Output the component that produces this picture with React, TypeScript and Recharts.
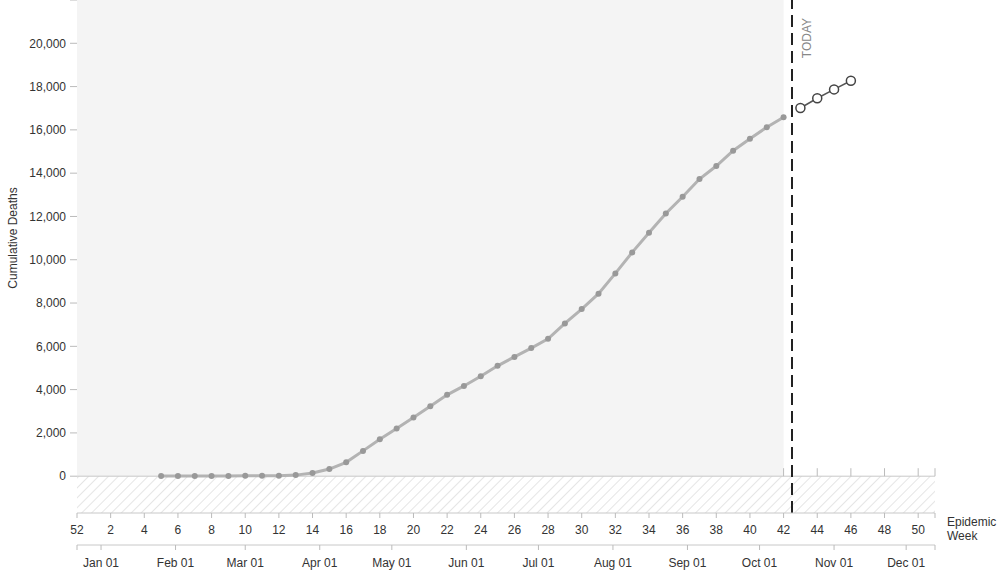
import React from 'react';
import { ComposedChart, Line, XAxis, YAxis, ReferenceArea, ReferenceLine } from 'recharts';

// Epidemic weeks (index 0 = week 52 of previous year)
const observedWeeks = [5, 6, 7, 8, 9, 10, 11, 12, 13, 14, 15, 16, 17, 18, 19, 20, 21, 22, 23, 24, 25, 26, 27, 28, 29, 30, 31, 32, 33, 34, 35, 36, 37, 38, 39, 40, 41, 42];
const observedDeaths = [5, 8, 10, 12, 14, 17, 20, 25, 50, 150, 330, 640, 1170, 1710, 2200, 2710, 3230, 3760, 4170, 4620, 5100, 5510, 5920, 6350, 7060, 7720, 8430, 9370, 10340, 11250, 12140, 12910, 13730, 14330, 15040, 15590, 16120, 16580];
const forecastWeeks = [43, 44, 45, 46];
const forecastDeaths = [17010, 17460, 17870, 18270];

const weekTicks = [0, 2, 4, 6, 8, 10, 12, 14, 16, 18, 20, 22, 24, 26, 28, 30, 32, 34, 36, 38, 40, 42, 44, 46, 48, 50, 51];
const weekLabels = ['52', '2', '4', '6', '8', '10', '12', '14', '16', '18', '20', '22', '24', '26', '28', '30', '32', '34', '36', '38', '40', '42', '44', '46', '48', '50', ''];
const zeroLineTicks = [42, 44, 46, 48, 50, 51];

// Days since start of week 52 (Dec 22, 2019)
const monthDays = [0, 10, 41, 70, 101, 131, 162, 192, 223, 254, 284, 315, 345, 357];
const monthLabels = ['', 'Jan 01', 'Feb 01', 'Mar 01', 'Apr 01', 'May 01', 'Jun 01', 'Jul 01', 'Aug 01', 'Sep 01', 'Oct 01', 'Nov 01', 'Dec 01', ''];
const monthTicks = monthDays.map((d) => d / 7);

const yTicks = [0, 2000, 4000, 6000, 8000, 10000, 12000, 14000, 16000, 18000, 20000, 22000];
const yLabels = ['0', '2,000', '4,000', '6,000', '8,000', '10,000', '12,000', '14,000', '16,000', '18,000', '20,000', ''];

const todayWeek = 42.5;
const observedEnd = 42;
const xMax = 51;
const yMin = -1700;
const yMax = 22000;

const data = [
  ...observedWeeks.map((w, i) => ({ week: w, observed: observedDeaths[i], forecast: null as number | null })),
  ...forecastWeeks.map((w, i) => ({ week: w, observed: null as number | null, forecast: forecastDeaths[i] })),
];

const FONT = '"Liberation Sans", Arial, Helvetica, sans-serif';
const tickStyle = { fill: '#333', fontSize: 12, fontFamily: FONT };

const TodayLabel = (props: any) => {
  const vb = props.viewBox || {};
  const x = (vb.x || 0) + 15;
  const y = 18;
  return (
    <text x={x} y={y} transform={`rotate(-90 ${x} ${y})`} textAnchor="end" dominantBaseline="central" fill="#888" fontSize={12} fontFamily={FONT}>
      TODAY
    </text>
  );
};

const YLabel = () => (
  <text x={13} y={238} transform="rotate(-90 13 238)" textAnchor="middle" dominantBaseline="central" fill="#333" fontSize={12} fontFamily={FONT}>
    Cumulative Deaths
  </text>
);

const WeekAxisLabel = () => (
  <text x={947} y={522} fill="#333" fontSize={12} fontFamily={FONT} dominantBaseline="central">
    <tspan x={947} y={522}>Epidemic</tspan>
    <tspan x={947} y={536}>Week</tspan>
  </text>
);

const lookup = (ticks: number[], labels: string[]) => (v: number, i: number) => {
  let best = 0;
  for (let k = 1; k < ticks.length; k++) {
    if (Math.abs(ticks[k] - v) < Math.abs(ticks[best] - v)) best = k;
  }
  return labels[best] ?? labels[i] ?? '';
};

export default function App() {
  return (
    <div style={{ position: 'absolute', left: 0, top: 0, width: 1000, height: 571, background: '#fff' }}>
      <ComposedChart width={1000} height={571} data={data} margin={{ top: 0, right: 65, bottom: 0, left: 0 }} style={{ fontFamily: FONT }}>
        <defs>
          <pattern id="hatch" patternUnits="userSpaceOnUse" width={7} height={7} patternTransform="rotate(45)">
            <line x1={0} y1={0} x2={0} y2={7} stroke="#d4d4d4" strokeWidth={1.2} />
          </pattern>
        </defs>
        <XAxis
          dataKey="week"
          type="number"
          domain={[0, xMax]}
          ticks={weekTicks}
          interval={0}
          height={32}
          tickSize={5}
          tickMargin={7}
          tick={tickStyle}
          tickLine={{ stroke: '#bbb' }}
          axisLine={{ stroke: '#c8c8c8' }}
          tickFormatter={lookup(weekTicks, weekLabels)}
          allowDataOverflow
          label={<WeekAxisLabel />}
        />
        <XAxis
          xAxisId="month"
          dataKey="week"
          type="number"
          domain={[0, xMax]}
          ticks={monthTicks}
          interval={0}
          height={26}
          tickSize={5}
          tickMargin={8}
          tick={tickStyle}
          tickLine={{ stroke: '#bbb' }}
          axisLine={{ stroke: '#c8c8c8' }}
          tickFormatter={lookup(monthTicks, monthLabels)}
          allowDataOverflow
        />
        <YAxis
          type="number"
          domain={[yMin, yMax]}
          ticks={yTicks}
          interval={0}
          width={77}
          tickSize={7}
          tickMargin={4}
          tick={tickStyle}
          axisLine={false}
          tickLine={{ stroke: '#bbb' }}
          tickFormatter={lookup(yTicks, yLabels)}
          allowDataOverflow
          label={<YLabel />}
        />
        <ReferenceArea x1={0} x2={observedEnd} y1={0} y2={yMax} fill="#f4f4f4" fillOpacity={1} stroke="none" ifOverflow="hidden" />
        <ReferenceArea x1={0} x2={xMax} y1={yMin} y2={0} fill="url(#hatch)" fillOpacity={1} stroke="none" />
        <ReferenceLine y={0} stroke="#c8c8c8" strokeWidth={1} />
        {zeroLineTicks.map((w) => (
          <ReferenceLine key={w} segment={[{ x: w, y: 0 }, { x: w, y: 370 }]} stroke="#bbb" strokeWidth={1} />
        ))}
        <ReferenceLine x={todayWeek} stroke="#222" strokeWidth={2} strokeDasharray="12 6" label={<TodayLabel />} />
        <Line
          type="linear"
          dataKey="observed"
          stroke="#b3b3b3"
          strokeWidth={3}
          dot={{ r: 3, fill: '#999', stroke: '#999', strokeWidth: 0 }}
          isAnimationActive={false}
          connectNulls={false}
        />
        <Line
          type="linear"
          dataKey="forecast"
          stroke="#555"
          strokeWidth={1.5}
          dot={{ r: 4.5, fill: '#fff', stroke: '#444', strokeWidth: 1.5 }}
          isAnimationActive={false}
          connectNulls={false}
        />
      </ComposedChart>
    </div>
  );
}
